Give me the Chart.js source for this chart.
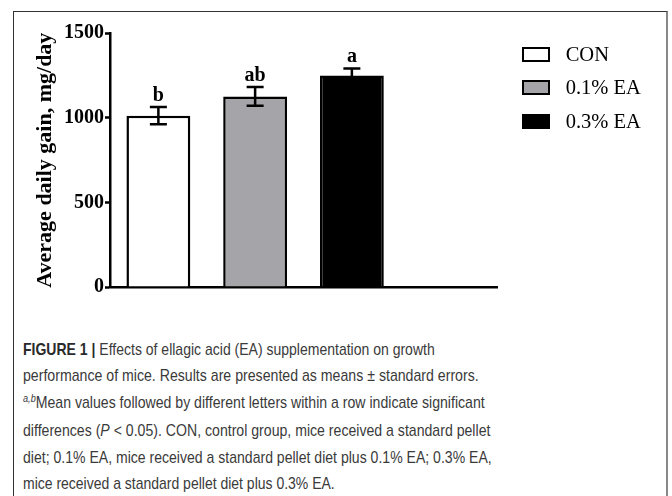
<!DOCTYPE html>
<html><head><meta charset="utf-8">
<script src="https://cdn.jsdelivr.net/npm/chart.js@4/dist/chart.umd.min.js"></script>
<style>
html,body{margin:0;padding:0;background:#fff;}
body{width:672px;height:496px;position:relative;overflow:hidden;}
#frame{position:absolute;left:13px;top:11px;width:655px;height:520px;border-left:1px solid #333;border-top:1px solid #333;border-right:2px solid #888;box-sizing:border-box;}
#c{position:absolute;left:0;top:0;}
#legend{position:absolute;left:522px;top:46.5px;font-family:"Liberation Serif",serif;font-size:20.5px;color:#000;}
.li{position:absolute;left:0;width:140px;height:15px;}
.sw{position:absolute;left:0;top:0;width:28px;height:15px;border:2.5px solid #000;box-sizing:border-box;}
.lt{position:absolute;left:43.7px;top:-6px;line-height:27px;white-space:nowrap;}
#caption{position:absolute;left:23.3px;top:336px;font-family:"Liberation Sans",Arial,sans-serif;font-size:16.2px;line-height:26.4px;color:#3a3a3a;}
#caption .ln{display:block;white-space:nowrap;transform-origin:0 50%;width:max-content;}
#caption b{font-weight:bold;color:#2a2a2a;}
#caption sup{font-size:10.5px;font-style:italic;vertical-align:0;position:relative;top:-6px;}
</style>
</head>
<body>
<div id="frame"></div>
<canvas id="c" width="672" height="300"></canvas>
<div id="legend"></div>
<div id="caption">
<span class="ln" data-w="411.7"><b>FIGURE 1 |</b> Effects of ellagic acid (EA) supplementation on growth</span>
<span class="ln" data-w="455.7">performance of mice. Results are presented as means ± standard errors.</span>
<span class="ln" data-w="461.7"><sup>a,b</sup>Mean values followed by different letters within a row indicate significant</span>
<span class="ln" data-w="467.4">differences (<i>P</i> &lt; 0.05). CON, control group, mice received a standard pellet</span>
<span class="ln" data-w="468.7">diet; 0.1% EA, mice received a standard pellet diet plus 0.1% EA; 0.3% EA,</span>
<span class="ln" data-w="311.7">mice received a standard pellet diet plus 0.3% EA.</span>
</div>
<script>
// ---- data ----
const categories = ['CON', '0.1% EA', '0.3% EA', ''];
const seriesLabels = ['CON', '0.1% EA', '0.3% EA'];
const meanValues = [1013, 1127, 1250, null];
const semValues = [51, 56, 42, null];
const sigLetters = ['b', 'ab', 'a', ''];
const barColors = ['#ffffff', '#a5a4a8', '#000000'];
const yTicks = [0, 500, 1000, 1500];
const yTitle = 'Average daily gain, mg/day';

// legend (HTML)
const lg = document.getElementById('legend');
seriesLabels.forEach((lab, i) => {
  const d = document.createElement('div');
  d.className = 'li';
  d.style.top = (i * 33.7) + 'px';
  d.innerHTML = '<div class="sw" style="background:' + barColors[i] + '"></div><div class="lt"></div>';
  d.querySelector('.lt').textContent = lab;
  lg.appendChild(d);
});

// caption line widths
document.querySelectorAll('#caption .ln').forEach(el => {
  const w = el.getBoundingClientRect().width;
  const t = parseFloat(el.dataset.w);
  el.style.transform = 'scaleX(' + (t / w) + ')';
});

const errPlugin = {
  id: 'errbars',
  afterDatasetsDraw(chart) {
    const ctx = chart.ctx;
    const meta = chart.getDatasetMeta(0);
    const ys = chart.scales.y;
    meta.data.forEach((bar, i) => {
      if (meanValues[i] == null) return;
      const x = bar.x;
      const top = ys.getPixelForValue(meanValues[i] + semValues[i]);
      const bot = ys.getPixelForValue(meanValues[i] - semValues[i]);
      const cap = 8.5;
      ctx.save();
      ctx.strokeStyle = '#000';
      ctx.lineWidth = 2.5;
      ctx.beginPath();
      ctx.moveTo(x, top); ctx.lineTo(x, bot);
      ctx.moveTo(x - cap, top); ctx.lineTo(x + cap, top);
      ctx.moveTo(x - cap, bot); ctx.lineTo(x + cap, bot);
      ctx.stroke();
      ctx.fillStyle = '#000';
      ctx.font = 'bold 20px "Liberation Serif"';
      ctx.textAlign = 'center';
      ctx.textBaseline = 'alphabetic';
      ctx.fillText(sigLetters[i], x, top - 6);
      ctx.restore();
    });
  }
};

new Chart(document.getElementById('c'), {
  type: 'bar',
  data: {
    labels: categories,
    datasets: [{
      label: 'Average daily gain',
      data: meanValues,
      backgroundColor: barColors,
      borderColor: '#000',
      borderWidth: 2.5,
      categoryPercentage: 1,
      barPercentage: 0.66
    }]
  },
  options: {
    responsive: false,
    animation: false,
    devicePixelRatio: 1,
    layout: { padding: { left: 28, right: 175, top: 33.3, bottom: 6.7 } },
    plugins: { legend: { display: false }, tooltip: { enabled: false } },
    scales: {
      x: {
        ticks: { display: false },
        grid: { display: false, drawTicks: false },
        border: { display: true, color: '#000', width: 2.5 }
      },
      y: {
        min: 0, max: 1500,
        afterFit(s) { s.width = 82; },
        afterBuildTicks(s) { s.ticks = yTicks.map(v => ({ value: v })); },
        ticks: {
          color: '#000', padding: 1,
          callback: v => String(v),
          font: { family: 'Liberation Serif', size: 20, weight: 'bold' }
        },
        grid: { display: true, drawOnChartArea: false, drawTicks: true, tickLength: 5, tickWidth: 2.5, tickColor: '#000' },
        border: { display: true, color: '#000', width: 2.5 },
        title: {
          display: true, text: yTitle, color: '#000',
          font: { family: 'Liberation Serif', size: 22, weight: 'bold' },
          padding: { top: 4, bottom: 4 }
        }
      }
    }
  },
  plugins: [errPlugin]
});
</script>
</body></html>
